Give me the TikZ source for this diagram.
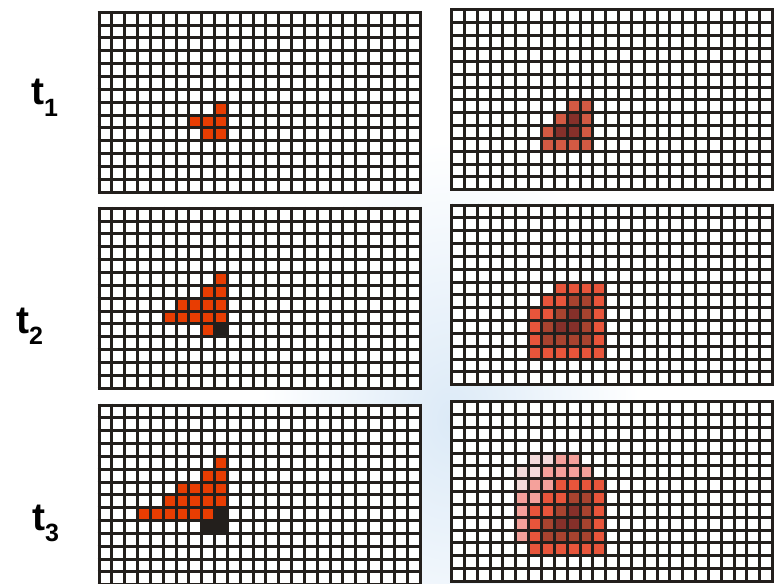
\documentclass[tikz,border=0pt]{standalone}
\usepackage{fontspec}
\setmainfont{Liberation Sans}
\definecolor{gridc}{HTML}{231F1C}
\definecolor{lred}{HTML}{E83D02}
\definecolor{cL}{HTML}{E8553B}
\definecolor{cL1}{HTML}{D35A43}
\definecolor{cM}{HTML}{A8432F}
\definecolor{cD}{HTML}{85302A}
\definecolor{cP}{HTML}{F5A19B}
\definecolor{cV}{HTML}{F3DADA}
\definecolor{bgblue}{HTML}{DCEAF7}
\newcommand\cs{12.84}
\newcommand\mycells[2]{\foreach \c/\r in {#2} \fill[#1] (\c*\cs,\r*\cs) rectangle ++(\cs,\cs);}
\newcommand\mygrid{%
  \foreach \i in {0,...,25} \draw[gridline] (\i*\cs,-1.5) -- (\i*\cs,14*\cs+1.5);
  \foreach \j in {0,...,14} \draw[gridline] (-1.5,\j*\cs) -- (25*\cs+1.5,\j*\cs);}
\tikzset{
  gridline/.style={draw=gridc, line width=3pt},
  gridbg/.style={fill=white},
  lbl/.style={font=\fontsize{39}{39}\selectfont\bfseries, inner sep=0pt, anchor=base west},
}
\newcommand\subsz{\fontsize{25}{25}\selectfont\bfseries}
\begin{document}
\begin{tikzpicture}[x=1pt,y=-1pt]
\useasboundingbox (0,0) rectangle (775,583);
\clip (0,0) rectangle (775,583);
\fill[white] (0,0) rectangle (775,583);
\shade[inner color=bgblue, outer color=white] (450,420) ellipse (190 and 280);
% left column
\begin{scope}[shift={(99,12.3)}]
  \fill[gridbg] (0,0) rectangle (25*\cs,14*\cs);
  \mycells{lred}{9/7,7/8,8/8,9/8,8/9,9/9}
  \mygrid
\end{scope}
\begin{scope}[shift={(99,208.3)}]
  \fill[gridbg] (0,0) rectangle (25*\cs,14*\cs);
  \mycells{lred}{9/5,8/6,9/6,6/7,7/7,8/7,9/7,5/8,6/8,7/8,8/8,9/8,8/9}
  \mycells{gridc}{9/9}
  \mygrid
\end{scope}
\begin{scope}[shift={(99,405)}]
  \fill[gridbg] (0,0) rectangle (25*\cs,14*\cs);
  \mycells{lred}{9/4,8/5,9/5,6/6,7/6,8/6,9/6,5/7,6/7,7/7,8/7,9/7,3/8,4/8,5/8,6/8,7/8,8/8}
  \mycells{gridc}{9/8,8/9,9/9}
  \mygrid
\end{scope}
% right column
\begin{scope}[shift={(451.6,10)}]
  \fill[gridbg] (0,0) rectangle (25*\cs,14*\cs);
  \mycells{cL1}{9/7,10/7,8/8,10/8,7/9,10/9,7/10,8/10,9/10,10/10}
  \mycells{cD}{9/8,8/9,9/9}
  \mygrid
\end{scope}
\begin{scope}[shift={(451.6,205)}]
  \fill[gridbg] (0,0) rectangle (25*\cs,14*\cs);
  \mycells{cL}{8/6,9/6,10/6,11/6,7/7,8/7,11/7,6/8,7/8,11/8,6/9,11/9,6/10,11/10,6/11,7/11,8/11,9/11,10/11,11/11}
  \mycells{cM}{9/7,10/7,8/8,10/8,7/9,10/9,7/10,8/10,9/10,10/10}
  \mycells{cD}{9/8,8/9,9/9}
  \mygrid
\end{scope}
\begin{scope}[shift={(451.6,401.7)}]
  \fill[gridbg] (0,0) rectangle (25*\cs,14*\cs);
  \mycells{cV}{6/4,7/4,5/5,6/5,5/6}
  \mycells{cP}{8/4,9/4,7/5,8/5,9/5,10/5,6/6,7/6,5/7,6/7,5/8,5/9,5/10}
  \mycells{cL}{8/6,9/6,10/6,11/6,7/7,8/7,11/7,6/8,7/8,11/8,6/9,11/9,6/10,11/10,6/11,7/11,8/11,9/11,10/11,11/11}
  \mycells{cM}{9/7,10/7,8/8,10/8,7/9,10/9,7/10,8/10,9/10,10/10}
  \mycells{cD}{9/8,8/9,9/9}
  \mygrid
\end{scope}
% labels
\node[lbl] (t1) at (31,105) {t\lower11pt\hbox{\subsz 1}};
\node[lbl] (t2) at (16,333) {t\lower11pt\hbox{\subsz 2}};
\node[lbl] (t3) at (32,530) {t\lower11pt\hbox{\subsz 3}};
\end{tikzpicture}
\end{document}
